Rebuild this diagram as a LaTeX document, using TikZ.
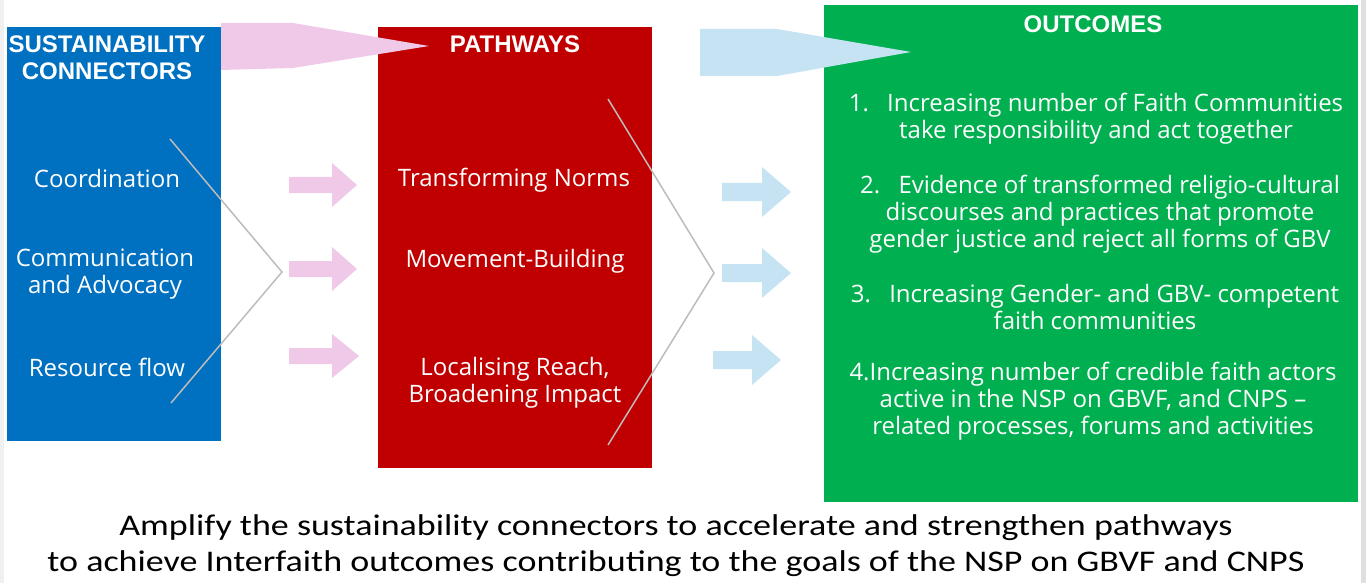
\documentclass[tikz,border=0pt]{standalone}
\usepackage{fontspec}
\setmainfont{Open Sans}
\newfontfamily\headfont{Liberation Sans}
\newfontfamily\notefont{Carlito}
\usepackage{tikz}

\definecolor{connblue}{RGB}{0,112,192}
\definecolor{pathred}{RGB}{192,0,0}
\definecolor{outgreen}{RGB}{0,176,80}
\definecolor{pinkarrow}{RGB}{240,201,232}
\definecolor{bluearrow}{RGB}{197,227,243}
\definecolor{chevgray}{RGB}{188,188,188}

\tikzset{
	column/.style = {anchor=north west, inner sep=0pt},
	head/.style = {text=white, font=\headfont\bfseries\fontsize{24}{27}\selectfont, align=center},
	item/.style = {text=white, font=\fontsize{24}{27}\selectfont, align=center},
	chev/.style = {draw=chevgray, line width=1.5pt}
}

\begin{document}
\begin{tikzpicture}[x=1pt, y=-1pt]
	\useasboundingbox (0,0) rectangle (1366,583);
	\fill[gray!12] (0,0) rectangle (4,583);
	\fill[gray!25] (1361,0) rectangle (1366,583);

	% the three columns
	\node[column, fill=connblue, minimum width=214pt, minimum height=414pt] (conn) at (7,27) {};
	\node[column, fill=pathred, minimum width=274pt, minimum height=441pt] (path) at (378,27) {};
	\node[column, fill=outgreen, minimum width=534pt, minimum height=497pt] (out) at (824,5) {};

	% big arrows at the top
	\fill[pinkarrow] (221,23) -- (293,23) -- (429,46) -- (293,68) -- (221,70) -- cycle;
	\fill[bluearrow] (700,29) -- (777,29) -- (911,52) -- (777,76) -- (700,76) -- cycle;

	% small arrows
	\fill[pinkarrow] (289,177) -- (332,177) -- (332,163) -- (357,185) -- (332,207) -- (332,193) -- (289,193) -- cycle;
	\fill[pinkarrow] (289,261) -- (332,261) -- (332,247) -- (357,269) -- (332,291) -- (332,277) -- (289,277) -- cycle;
	\fill[pinkarrow] (289,348) -- (332,348) -- (332,334) -- (359,356) -- (332,378) -- (332,364) -- (289,364) -- cycle;
	\fill[bluearrow] (722,183) -- (762,183) -- (762,167) -- (791,192) -- (762,217) -- (762,201) -- (722,201) -- cycle;
	\fill[bluearrow] (722,264) -- (762,264) -- (762,248) -- (791,273) -- (762,298) -- (762,282) -- (722,282) -- cycle;
	\fill[bluearrow] (713,351) -- (752,351) -- (752,335) -- (781,360) -- (752,385) -- (752,369) -- (713,369) -- cycle;

	% brackets
	\draw[chev] (170,139) -- (282,272) -- (171,403);
	\draw[chev] (608,99) -- (714,273) -- (608,445);

	% texts
	\node[head] (connhead) at (107,58) {SUSTAINABILITY\\CONNECTORS};
	\node[head] (pathhead) at (515,44) {PATHWAYS};
	\node[head] (outhead) at (1093,24) {OUTCOMES};

	\node[item] (coord) at (107,179) {Coordination};
	\node[item] (comm) at (105,274) {Communication\\and Advocacy};
	\node[item] (res) at (107,367) {Resource flow};

	\node[item] (norms) at (514,180) {Transforming Norms};
	\node[item] (move) at (515,261) {Movement-Building};
	\node[item] (local) at (515,383) {Localising Reach,\\Broadening Impact};

	\node[item] (out1) at (1096,119) {1.\enspace\ Increasing number of Faith Communities\\take responsibility and act together};
	\node[item] (out2) at (1100,214) {2.\enspace\ Evidence of transformed religio-cultural\\discourses and practices that promote\\gender justice and reject all forms of GBV};
	\node[item] (out3) at (1095,307) {3.\enspace\ Increasing Gender- and GBV- competent\\faith communities};
	\node[item] (out4) at (1093,401) {4.Increasing number of credible faith actors\\active in the NSP on GBVF, and CNPS --\\related processes, forums and activities};

	\node[font=\notefont\fontsize{30}{36}\selectfont, align=center] (note) at (676,546) {\scalebox{1.2}[1]{Amplify the sustainability connectors to accelerate and strengthen pathways}\\\scalebox{1.2}[1]{to achieve Interfaith outcomes contributing to the goals of the NSP on GBVF and CNPS}};
\end{tikzpicture}
\end{document}
